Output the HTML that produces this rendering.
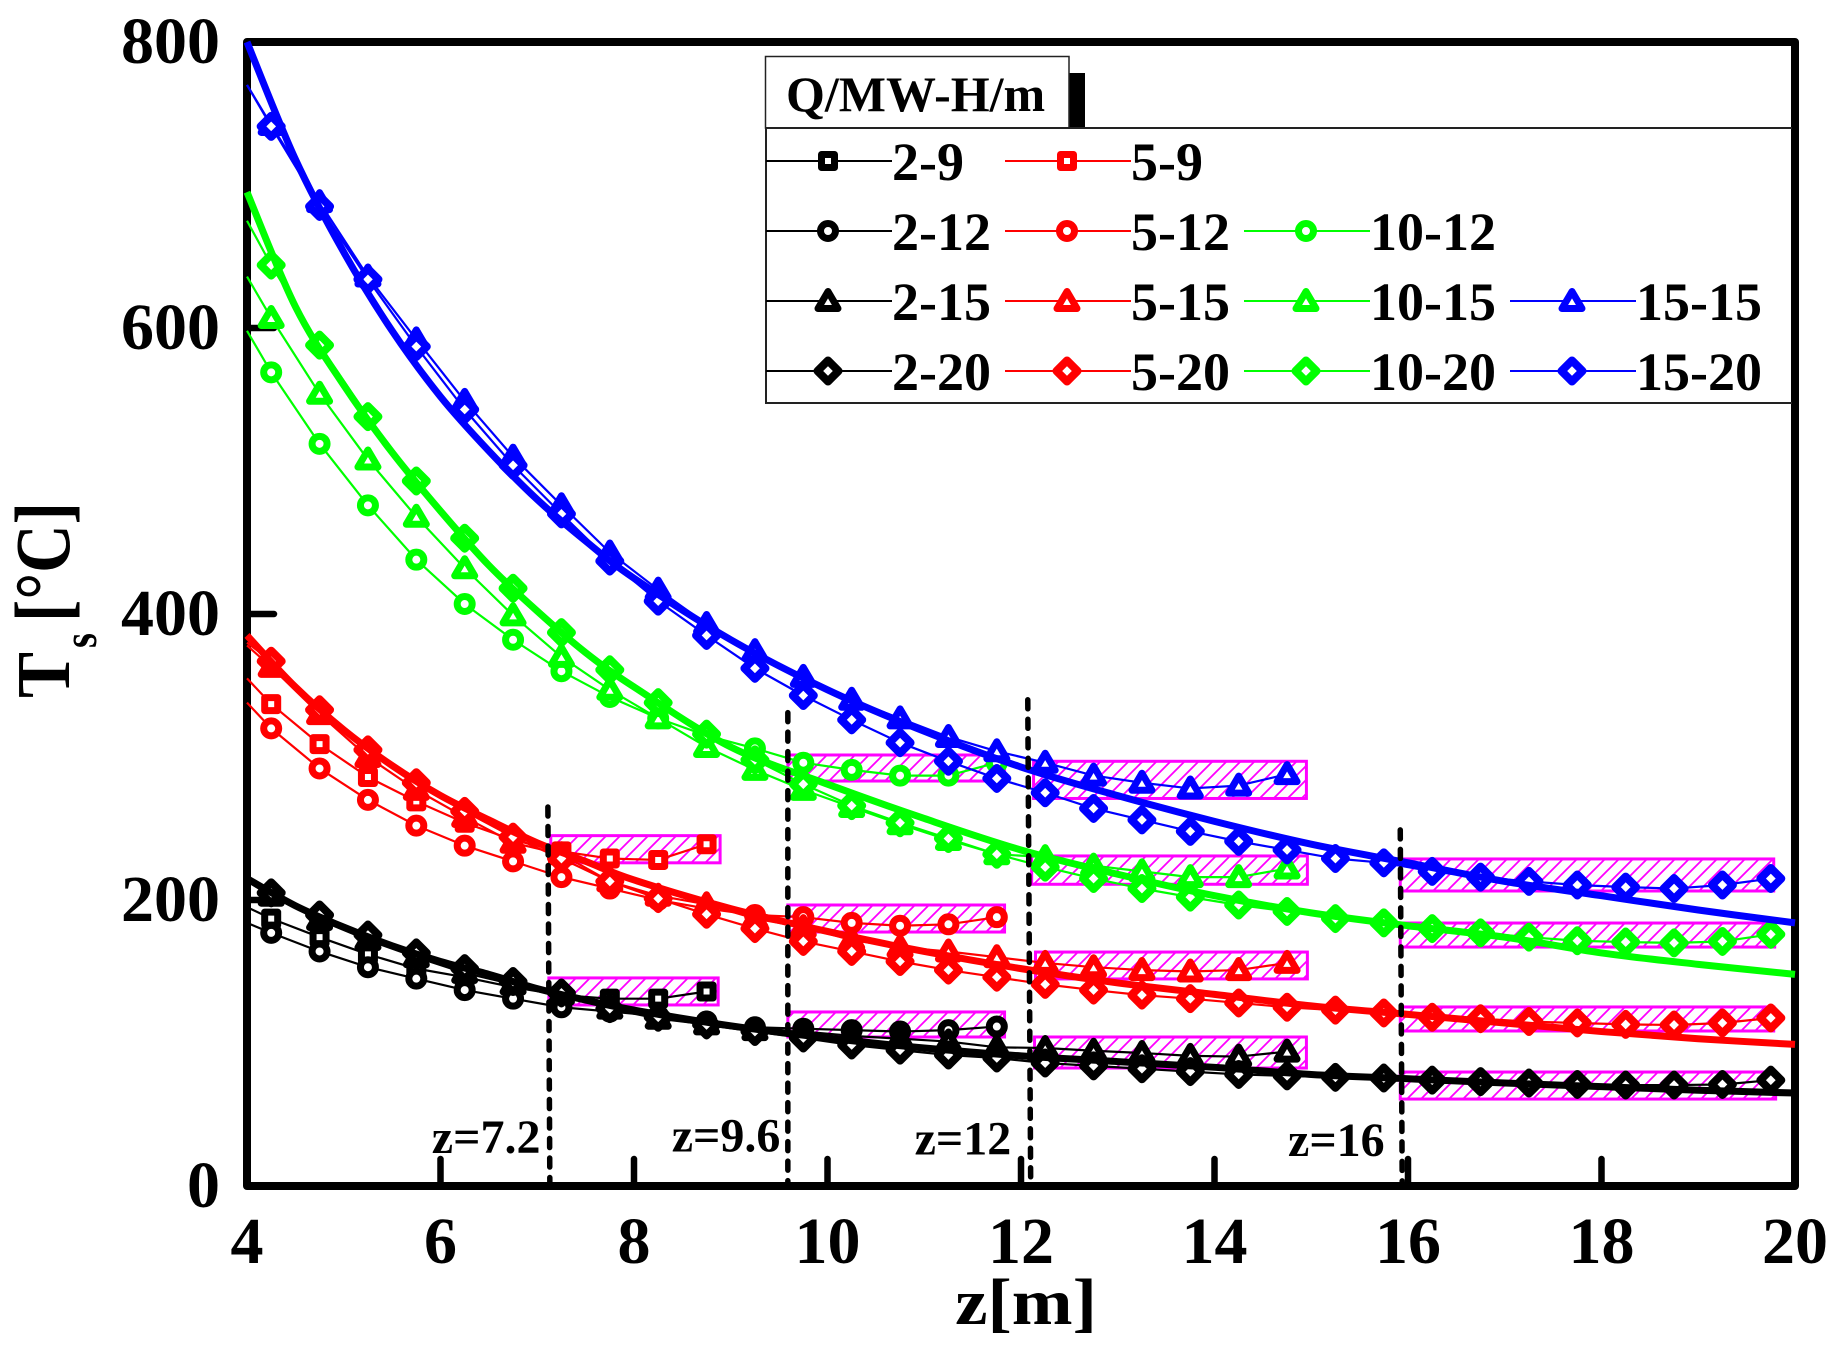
<!DOCTYPE html>
<html lang="en">
<head>
<meta charset="utf-8">
<title>Surface temperature vs height</title>
<style>
html,body{margin:0;padding:0;background:#fff;}
#chart{display:block;width:1848px;height:1359px;}
text{font-family:"Liberation Serif",serif;font-weight:bold;fill:#000;}
</style>
</head>
<body>
<svg id="chart" xmlns="http://www.w3.org/2000/svg" width="1848" height="1359" viewBox="0 0 1848 1359">
  <defs>
    <pattern id="hatch" patternUnits="userSpaceOnUse" width="14" height="14">
      <path d="M-2,16 L16,-2 M-2,2 L2,-2 M12,16 L16,12" stroke="#ff00ff" stroke-width="1.8" fill="none"/>
    </pattern>
  </defs>
  <rect x="0" y="0" width="1848" height="1359" fill="#fff"/>
  <g id="frame"></g>
  <g id="boxes"></g>
  <g id="series"></g>
  <g id="fits"></g>
  <g id="dashes"></g>
  <g id="xticks"></g>
  <g id="yticks"></g>
  <text transform="translate(1026,1324) scale(1,0.9)" x="0" y="0" font-size="73" text-anchor="middle">z[m]</text>
  <g>
    <text transform="translate(69,698) rotate(-90)" font-size="76" textLength="46" lengthAdjust="spacingAndGlyphs">T</text>
    <text transform="translate(96,648) rotate(-90)" font-size="48" textLength="15" lengthAdjust="spacingAndGlyphs">s</text>
    <text transform="translate(69,622) rotate(-90)" font-size="78" textLength="120" lengthAdjust="spacingAndGlyphs">[°C]</text>
  </g>
  <g id="legend">
    <rect x="1069" y="73" width="16" height="55" fill="#000"/>
    <rect x="765.5" y="56.5" width="303.5" height="71.5" fill="#fff" stroke="#222" stroke-width="1.5"/>
    <text x="786" y="111" font-size="50">Q/MW-H/m</text>
    <path d="M766,128 H1792 M766,128 V403 H1792" fill="none" stroke="#222" stroke-width="2"/>
  </g>
</svg>
<script>
// Categories
var zAll = [4,4.25,4.75,5.25,5.75,6.25,6.75,7.25,7.75,8.25,8.75,9.25,9.75,10.25,10.75,11.25,11.75,12.25,12.75,13.25,13.75,14.25,14.75,15.25,15.75,16.25,16.75,17.25,17.75,18.25,18.75,19.25,19.75];
var zFit = [4,4.5,5,5.5,6,6.5,7,7.5,8,9,10,11,12,13,14,15,16,17,18,19,20];
var xTickLabels = [4,6,8,10,12,14,16,18,20];
var yTickLabels = [0,200,400,600,800];
var seriesNames = ['2-9','2-12','2-15','2-20','5-9','5-12','5-15','5-20','10-12','10-15','10-20','15-15','15-20'];

// Series values (first value is at the axis, z = 4, with no marker)
var v2_9   = [195,187,174,162,152,146,139,133.5,131,131,136];
var v2_12  = [184,177,164,153,145,137,131,125,122,119,115,111,110,109,108,109,111.5];
var v2_15  = [213,203,186,172,160,149,141,134,124,117,113,109,108,105,103,101,97,96.5,94.6,93,91,90.5,94];
var v2_20  = [215,205,189.5,175.5,163,152,143,135,124,118,112.6,108,103.5,98.6,95,91.6,89.5,86,84,82,80,78,77,76,75.5,74,73,72,71,70.6,70.6,71,74];
var v5_9   = [355,337,309,286,269,254,242,234,229,228,239];
var v5_12  = [338,320,292,270,252,238,227,216,208,200,194,189.5,188,184,182,183,188];
var v5_15  = [378,363,330,300,277,258,240,232,213,203,197,187,181,172,167,164,160,156,153,151,150,151,156];
var v5_20  = [380,367,333,305,282,262,244,229,213,201,190,180,171,164,157,151,146,141,137,133.5,131,128,125,123,121,118,117,115,114,113,112.6,114,117.5];
var v10_12 = [598,569,519,476,438,407,382,360,342,327,315,306,296,291,287,287,296];
var v10_15 = [636,607,554,508,468,432,399,370,347,327,307,291,277,265,253,242,232,230,224,220,216,216,222];
var v10_20 = [675,644,588,538,493,453,418,387,361,338,316,298,281,266,254,243,232,223,215,208,202,196.5,192,187,184,180,177,174,171.5,170.6,170,171,176];
var v15_15 = [770,742,688,636,592,549,510,476,443,417,393,374,356,340,327,314,304,296,287,282,278,280,288];
var v15_20 = [770,741,685,634,587,543,504,470,437,409,385,362,343,326,310,297,285,275,264,256,248,241,235,229,226,220,216,213,210.5,209,208,210.5,215];

// Thick correlation curves
var fitBlack = [215,196,181,168,157,148,138,130,123,112,103.5,96.5,91,87,83,78,75,72,69.5,67,65];
var fitRed   = [385,349,319,294,273,256,240,227,214,194,178,164,152,142,134,126,120,114,108,103,99];
var fitGreen = [695,615,560,513,472,434,402,373,349,307,281,257,235,218,203,191,182,174,163,155,148];
var fitBlue  = [800,718,653,598,552,514,480,451,425,382,347,318,293,273,255,239,226,213,203,193,184];

// Hatched regions: [z start, z end, value top, value bottom]
var box5_9   = [7.14,8.89,245,226];
var box2_9   = [7.12,8.87,145.5,126.6];
var box10_12 = [9.59,11.83,301.4,283.2];
var box5_12  = [9.59,11.83,196.5,177.6];
var box2_12  = [9.59,11.83,121.7,104.2];
var box15_15 = [12.13,14.95,297,271];
var box10_15 = [12.11,14.96,230.8,211];
var box5_15  = [12.15,14.96,163.6,144.8];
var box2_15  = [12.14,14.95,104.2,82.5];
var box15_20 = [15.92,19.78,228.7,206.3];
var box10_20 = [15.92,19.79,183.9,167.1];
var box5_20  = [15.92,19.78,125.2,108.4];
var box2_20  = [15.92,19.80,79.7,60.8];

// Zone dividers: [z at top, z at bottom, value at top]
var divider72  = [7.11,7.13,265];
var divider96  = [9.59,9.59,331];
var divider12  = [12.07,12.10,340];
var divider16  = [15.92,15.94,249];

var NS = 'http://www.w3.org/2000/svg';
function sx(z){ return 247 + (z - 4) * 96.75; }
function sy(v){ return 1186 - v * 1.43; }
function mk(tag, parent, attrs){
  var el = document.createElementNS(NS, tag);
  for (var k in attrs) el.setAttribute(k, attrs[k]);
  parent.appendChild(el);
  return el;
}
function drawMarker(parent, kind, x, y, color){
  var el;
  var common = {fill:'#fff', stroke:color, 'stroke-linejoin':'round'};
  if (kind === 'square') {
    el = mk('rect', parent, common);
    el.setAttribute('x', x - 6.5); el.setAttribute('y', y - 6.5);
    el.setAttribute('width', 13); el.setAttribute('height', 13);
    el.setAttribute('stroke-width', 7);
  } else if (kind === 'circle') {
    el = mk('circle', parent, common);
    el.setAttribute('cx', x); el.setAttribute('cy', y); el.setAttribute('r', 7.5);
    el.setAttribute('stroke-width', 7);
  } else if (kind === 'triangle') {
    el = mk('path', parent, common);
    el.setAttribute('d', 'M' + x + ',' + (y - 9.5) + 'L' + (x + 10) + ',' + (y + 7.5) + 'L' + (x - 10) + ',' + (y + 7.5) + 'Z');
    el.setAttribute('stroke-width', 7);
  } else {
    el = mk('path', parent, common);
    el.setAttribute('d', 'M' + x + ',' + (y - 10.5) + 'L' + (x + 10.5) + ',' + y + 'L' + x + ',' + (y + 10.5) + 'L' + (x - 10.5) + ',' + y + 'Z');
    el.setAttribute('stroke-width', 8);
  }
  return el;
}
function smoothPath(xs, ys){
  var d = 'M' + xs[0] + ',' + ys[0];
  for (var i = 0; i < xs.length - 1; i++) {
    var x0 = xs[Math.max(i - 1, 0)], y0 = ys[Math.max(i - 1, 0)];
    var x1 = xs[i], y1 = ys[i], x2 = xs[i + 1], y2 = ys[i + 1];
    var x3 = xs[Math.min(i + 2, xs.length - 1)], y3 = ys[Math.min(i + 2, xs.length - 1)];
    d += 'C' + (x1 + (x2 - x0) / 6) + ',' + (y1 + (y2 - y0) / 6) + ' ' + (x2 - (x3 - x1) / 6) + ',' + (y2 - (y3 - y1) / 6) + ' ' + x2 + ',' + y2;
  }
  return d;
}

// Frame and ticks
var frameG = document.getElementById('frame');
var frameRect = mk('rect', frameG, {x:sx(4), y:sy(800), width:sx(20)-sx(4), height:sy(0)-sy(800), fill:'none', stroke:'#000', 'stroke-width':8, 'stroke-linejoin':'round'});


xTickLabels.forEach(function(t){
  if (t === 4 || t === 20) return;
  var tick = mk('line', frameG, {x1:sx(t), x2:sx(t), y1:sy(0), y2:sy(0)-27, stroke:'#000', 'stroke-width':6.5, 'stroke-linecap':'round'});
  
  
});
yTickLabels.forEach(function(t){
  if (t === 0 || t === 800) return;
  var tick = mk('line', frameG, {x1:sx(4), x2:sx(4)+27, y1:sy(t), y2:sy(t), stroke:'#000', 'stroke-width':6.5, 'stroke-linecap':'round'});
  
  
});

// Tick labels
var xtG = document.getElementById('xticks');
xTickLabels.forEach(function(t){
  var lab = mk('text', xtG, {x:sx(t), y:1263, 'font-size':66, 'text-anchor':'middle'});
  
  
  lab.textContent = t;
});
var ytG = document.getElementById('yticks');
yTickLabels.forEach(function(t){
  var lab = mk('text', ytG, {x:220, y:sy(t)+21, 'font-size':66, 'text-anchor':'end'});
  
  
  lab.textContent = t;
});

// Hatched boxes
var boxList = [box5_9,box2_9,box10_12,box5_12,box2_12,box15_15,box10_15,box5_15,box2_15,box15_20,box10_20,box5_20,box2_20];
var boxG = document.getElementById('boxes');
boxList.forEach(function(b){
  var r = mk('rect', boxG, {x:sx(b[0]), y:sy(b[2]), width:sx(b[1])-sx(b[0]), height:sy(b[3])-sy(b[2]), fill:'url(#hatch)', stroke:'#ff00ff', 'stroke-width':3});
  
  
});

// Series
var seriesList = [
  {name:seriesNames[0],  vals:v2_9,   color:'#000000', kind:'square',   col:0, row:0},
  {name:seriesNames[1],  vals:v2_12,  color:'#000000', kind:'circle',   col:0, row:1},
  {name:seriesNames[2],  vals:v2_15,  color:'#000000', kind:'triangle', col:0, row:2},
  {name:seriesNames[3],  vals:v2_20,  color:'#000000', kind:'diamond',  col:0, row:3},
  {name:seriesNames[4],  vals:v5_9,   color:'#ff0000', kind:'square',   col:1, row:0},
  {name:seriesNames[5],  vals:v5_12,  color:'#ff0000', kind:'circle',   col:1, row:1},
  {name:seriesNames[6],  vals:v5_15,  color:'#ff0000', kind:'triangle', col:1, row:2},
  {name:seriesNames[7],  vals:v5_20,  color:'#ff0000', kind:'diamond',  col:1, row:3},
  {name:seriesNames[8],  vals:v10_12, color:'#00ff00', kind:'circle',   col:2, row:1},
  {name:seriesNames[9],  vals:v10_15, color:'#00ff00', kind:'triangle', col:2, row:2},
  {name:seriesNames[10], vals:v10_20, color:'#00ff00', kind:'diamond',  col:2, row:3},
  {name:seriesNames[11], vals:v15_15, color:'#0000ff', kind:'triangle', col:3, row:2},
  {name:seriesNames[12], vals:v15_20, color:'#0000ff', kind:'diamond',  col:3, row:3}
];
var seriesG = document.getElementById('series');
seriesList.forEach(function(s){
  var g = mk('g', seriesG, {});
  
  
  var pts = s.vals.map(function(v, i){ return sx(zAll[i]) + ',' + sy(v); }).join(' ');
  var line = mk('polyline', g, {points:pts, fill:'none', stroke:s.color, 'stroke-width':2.2, 'stroke-linejoin':'round'});
  
  
  s.vals.forEach(function(v, i){
    if (i === 0) return;
    var m = drawMarker(g, s.kind, sx(zAll[i]), sy(v), s.color);
    
    
  });
});

// Fit curves
var fitList = [[fitBlack,'#000000','fit-curve-black'],[fitRed,'#ff0000','fit-curve-red'],[fitGreen,'#00ff00','fit-curve-green'],[fitBlue,'#0000ff','fit-curve-blue']];
var fitG = document.getElementById('fits');
fitList.forEach(function(f){
  var xs = zFit.map(sx);
  var ys = f[0].map(sy);
  var p = mk('path', fitG, {d:smoothPath(xs, ys), fill:'none', stroke:f[1], 'stroke-width':7});
  
  
});

// Dashed dividers
var dividerList = [divider72, divider96, divider12, divider16];
var dashG = document.getElementById('dashes');
dividerList.forEach(function(d){
  var l = mk('line', dashG, {x1:sx(d[0]), y1:sy(d[2]), x2:sx(d[1]), y2:sy(0)-4, stroke:'#000', 'stroke-width':5.5, 'stroke-linecap':'round', 'stroke-dasharray':'9 10.5'});
  
  
});

// Zone labels
var zoneLabels = ['z=7.2','z=9.6','z=12','z=16'];
var zoneZ = [5.91,8.39,10.90,14.76];
var zoneV = [23,24,22,21];
zoneLabels.forEach(function(t, i){
  var lab = mk('text', dashG, {x:sx(zoneZ[i]), y:sy(zoneV[i]), 'font-size':48});
  
  
  lab.textContent = t;
});

// Legend
var legG = document.getElementById('legend');
var colLeft = [766,1005,1244,1510];
var rowY = [161,231,301,371];
seriesList.forEach(function(s){
  var x0 = colLeft[s.col], y = rowY[s.row];
  var g = mk('g', legG, {});
  
  
  var l = mk('line', g, {x1:x0, x2:x0+126, y1:y, y2:y, stroke:s.color, 'stroke-width':2});
  
  
  var m = drawMarker(g, s.kind, x0 + 62, y, s.color);
  
  
  var t = mk('text', g, {x:x0+126, y:y+19, 'font-size':54});
  
  
  t.textContent = s.name;
});
</script>
</body>
</html>
